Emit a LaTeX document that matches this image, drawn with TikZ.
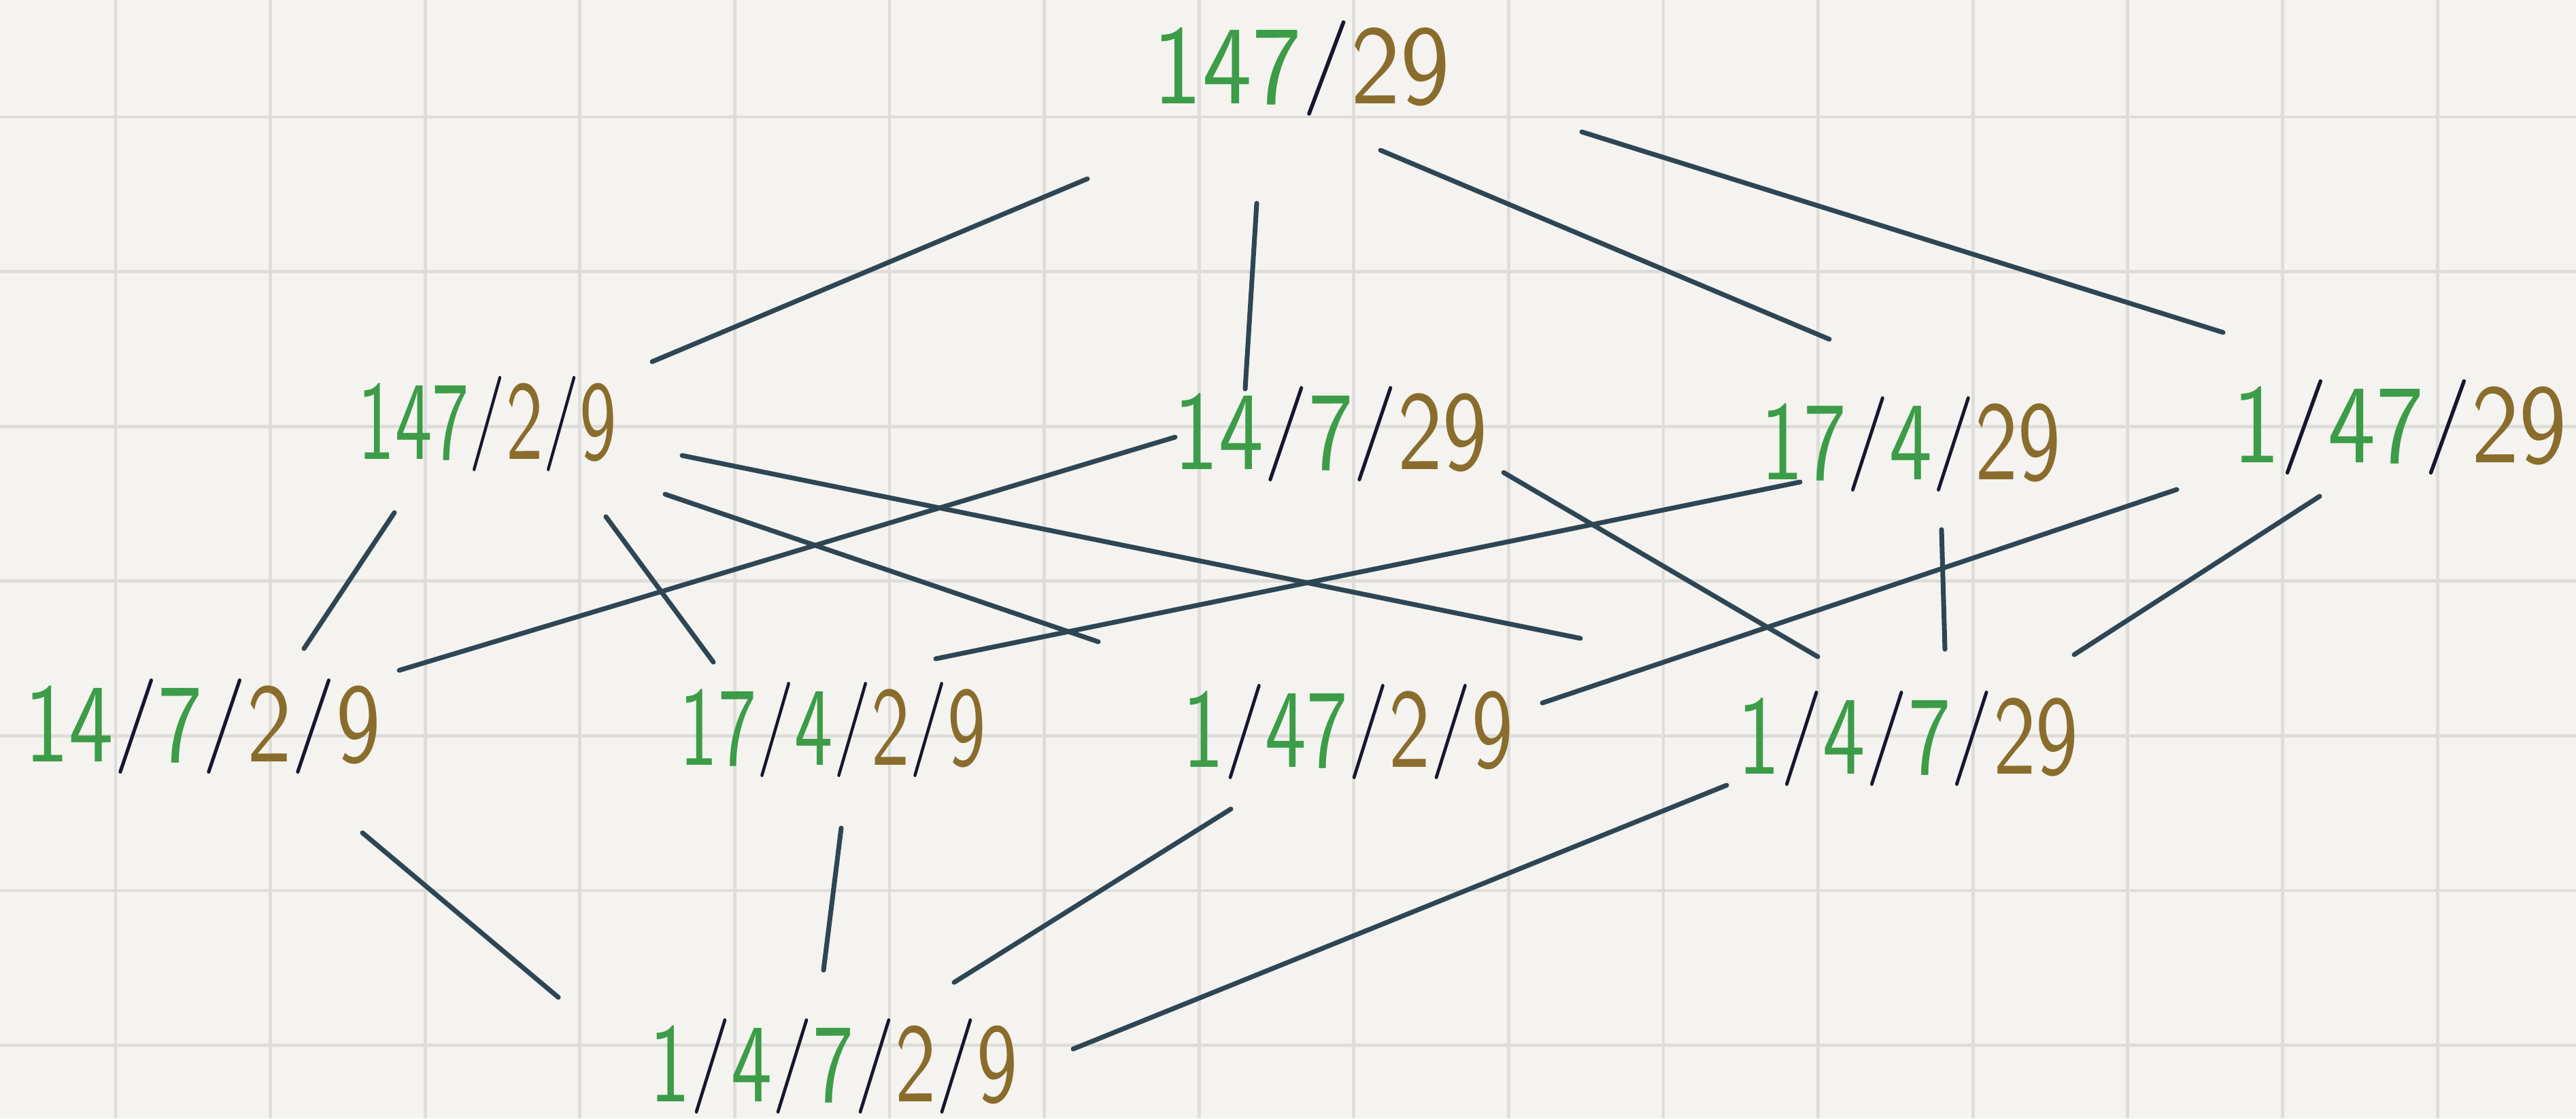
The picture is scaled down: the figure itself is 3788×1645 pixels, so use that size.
\documentclass[tikz,border=0pt]{standalone}
\usepackage{graphicx}
\definecolor{paper}{RGB}{244,243,239}
\definecolor{gridgray}{RGB}{222,221,218}
\definecolor{leafgreen}{RGB}{60,156,72}
\definecolor{ochre}{RGB}{138,108,44}
\definecolor{inkbar}{RGB}{22,22,46}
\definecolor{slate}{RGB}{46,70,84}
\newcommand{\gr}[1]{\textcolor{leafgreen}{#1}}
\newcommand{\br}[1]{\textcolor{ochre}{#1}}
\newcommand{\sep}{\textcolor{inkbar}{\raisebox{0.1em}{\scalebox{1}[0.85]{/}}}}
\newcommand{\plab}[2]{\resizebox*{#1}{1.4cm}{\sffamily #2}}
\tikzset{
  block/.style={anchor=base, inner sep=0pt, outer sep=0pt},
  link/.style={draw=slate, line width=2pt, line cap=round},
  gridline/.style={draw=gridgray, line width=1.4pt}
}
\begin{document}
\begin{tikzpicture}[x=0.01cm, y=-0.01cm]
\useasboundingbox (0,0) rectangle (3788,1645);
% squared paper
\fill[paper] (0,0) rectangle (3788,1645);
\foreach \i in {0,...,15}
  \draw[gridline] ({170+227.6*\i},0) -- ({170+227.6*\i},1645);
\foreach \j in {0,...,6}
  \draw[gridline] (0,{172+227.6*\j}) -- (3788,{172+227.6*\j});

% partitions
\node[block] (top) at (1914,152) {\plab{4.36cm}{\gr{147}\sep\br{29}}};
\node[block] (m1) at (717,675) {\plab{3.8cm}{\gr{147}\sep\br{2}\sep\br{9}}};
\node[block] (m2) at (1957,690) {\plab{4.6cm}{\gr{14}\sep\gr{7}\sep\br{29}}};
\node[block] (m3) at (2810,705) {\plab{4.4cm}{\gr{17}\sep\gr{4}\sep\br{29}}};
\node[block] (m4) at (3529,680) {\plab{4.9cm}{\gr{1}\sep\gr{47}\sep\br{29}}};
\node[block] (l1) at (298,1120) {\plab{5.23cm}{\gr{14}\sep\gr{7}\sep\br{2}\sep\br{9}}};
\node[block] (l2) at (1225,1125) {\plab{4.5cm}{\gr{17}\sep\gr{4}\sep\br{2}\sep\br{9}}};
\node[block] (l3) at (1982,1128) {\plab{4.85cm}{\gr{1}\sep\gr{47}\sep\br{2}\sep\br{9}}};
\node[block] (l4) at (2806,1138) {\plab{5cm}{\gr{1}\sep\gr{4}\sep\gr{7}\sep\br{29}}};
\node[block] (bot) at (1226,1620) {\plab{5.4cm}{\gr{1}\sep\gr{4}\sep\gr{7}\sep\br{2}\sep\br{9}}};

% top to middle row
\draw[link] ([shift={(-315,111)}]top.base) -- ([shift={(242,-143)}]m1.base);
\draw[link] ([shift={(-66,147)}]top.base) -- ([shift={(-126,-118)}]m2.base);
\draw[link] ([shift={(116,69)}]top.base) -- ([shift={(-120,-206)}]m3.base);
\draw[link] ([shift={(412,42)}]top.base) -- ([shift={(-260,-191)}]m4.base);
% middle row to lower row
\draw[link] ([shift={(-137,79)}]m1.base) -- ([shift={(149,-166)}]l1.base);
\draw[link] ([shift={(174,85)}]m1.base) -- ([shift={(-176,-151)}]l2.base);
\draw[link] ([shift={(261,52)}]m1.base) -- ([shift={(-367,-184)}]l3.base);
\draw[link] ([shift={(286,-5)}]m1.base) -- ([shift={(-482,-199)}]l4.base);
\draw[link] ([shift={(-229,-47)}]m2.base) -- ([shift={(289,-134)}]l1.base);
\draw[link] ([shift={(254,5)}]m2.base) -- ([shift={(-133,-172)}]l4.base);
\draw[link] ([shift={(-163,4)}]m3.base) -- ([shift={(151,-156)}]l2.base);
\draw[link] ([shift={(45,74)}]m3.base) -- ([shift={(54,-183)}]l4.base);
\draw[link] ([shift={(-328,40)}]m4.base) -- ([shift={(286,-94)}]l3.base);
\draw[link] ([shift={(-118,50)}]m4.base) -- ([shift={(244,-175)}]l4.base);
% lower row to bottom
\draw[link] ([shift={(235,105)}]l1.base) -- ([shift={(-405,-153)}]bot.base);
\draw[link] ([shift={(12,93)}]l2.base) -- ([shift={(-15,-193)}]bot.base);
\draw[link] ([shift={(-172,62)}]l3.base) -- ([shift={(177,-175)}]bot.base);
\draw[link] ([shift={(-267,17)}]l4.base) -- ([shift={(352,-77)}]bot.base);
\end{tikzpicture}
\end{document}
